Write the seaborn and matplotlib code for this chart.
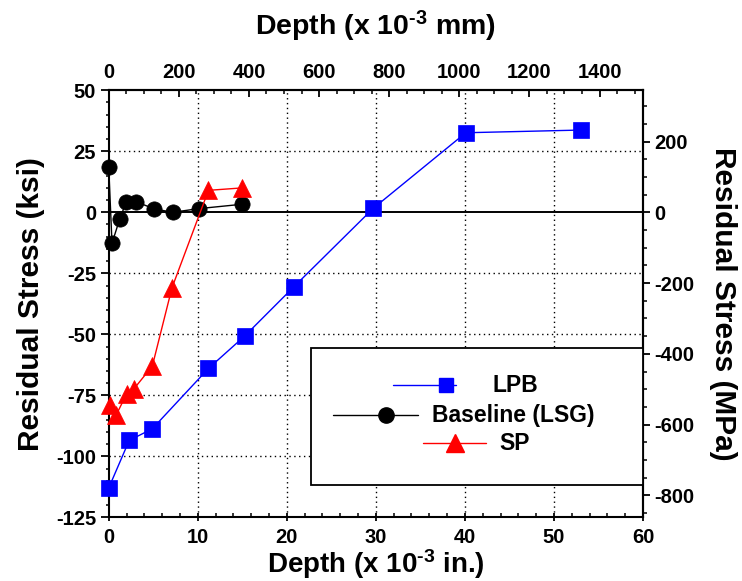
import numpy as np
import pandas as pd
import matplotlib
matplotlib.use("Agg")
import matplotlib.pyplot as plt
from matplotlib.ticker import MultipleLocator, FixedLocator
from matplotlib.patches import Rectangle
from matplotlib.lines import Line2D
import seaborn as sns

# ---- data (depth in 1e-3 in., stress in ksi) ----
lpb_depth = [0.0, 2.3, 4.9, 11.2, 15.3, 20.8, 29.7, 40.1, 53.0]
lpb_stress = [-113.0, -93.5, -88.7, -64.0, -50.6, -30.5, 1.6, 32.6, 33.7]

base_depth = [0.0, 0.37, 1.24, 1.98, 3.1, 5.1, 7.2, 10.1, 15.0]
base_stress = [18.7, -12.7, -2.7, 4.3, 4.3, 1.4, 0.0, 1.5, 3.3]

sp_depth = [0.1, 0.85, 2.0, 2.8, 4.9, 7.1, 11.2, 15.0]
sp_stress = [-79.0, -83.0, -74.5, -72.5, -63.0, -31.0, 9.0, 10.0]

series_names = ["LPB", "Baseline (LSG)", "SP"]
series_colors = ["#0000FF", "#000000", "#FF0000"]
series_markers = ["s", "o", "^"]

top_ticks_mm = [0, 200, 400, 600, 800, 1000, 1200, 1400]
right_ticks_mpa = [-800, -600, -400, -200, 0, 200]

KSI_TO_MPA = 6.89476
IN_TO_MM = 25.4

sns.set_style("ticks")
plt.rcParams["font.family"] = ["Liberation Sans", "DejaVu Sans"]
plt.rcParams["font.weight"] = "bold"
plt.rcParams["axes.labelweight"] = "bold"
plt.rcParams["axes.unicode_minus"] = False
plt.rcParams["text.color"] = "black"
plt.rcParams["axes.labelcolor"] = "black"
plt.rcParams["xtick.color"] = "black"
plt.rcParams["ytick.color"] = "black"
plt.rcParams["axes.edgecolor"] = "black"
plt.rcParams["mathtext.fontset"] = "custom"
plt.rcParams["mathtext.rm"] = "Liberation Sans:bold"
plt.rcParams["mathtext.it"] = "Liberation Sans:bold"
plt.rcParams["mathtext.bf"] = "Liberation Sans:bold"

fig = plt.figure(figsize=(7.42, 5.81), dpi=100)
ax = fig.add_axes([0.1465, 0.1096, 0.7201, 0.735])

data = [
    (lpb_depth, lpb_stress, 11.5),
    (base_depth, base_stress, 11.0),
    (sp_depth, sp_stress, 13.0),
]
for (xs, ys, ms), name, col, mk in zip(data, series_names, series_colors, series_markers):
    df = pd.DataFrame({"depth": xs, "stress": ys})
    sns.lineplot(data=df, x="depth", y="stress", ax=ax, color=col, marker=mk,
                 markersize=ms, markeredgecolor=col, markeredgewidth=0.5,
                 linewidth=1.0, sort=False, estimator=None, legend=False,
                 clip_on=False, zorder=4)

ax.set_xlim(0, 60)
ax.set_ylim(-125, 50)
ax.axhline(0, color="black", lw=1.4, zorder=2)

ax.xaxis.set_major_locator(MultipleLocator(10))
ax.xaxis.set_minor_locator(MultipleLocator(2))
ax.yaxis.set_major_locator(MultipleLocator(25))
ax.yaxis.set_minor_locator(MultipleLocator(5))

for x in [10, 20, 30, 40, 50]:
    ax.axvline(x, color="black", lw=1.0, ls=(0, (1, 2.5)), zorder=1)
for y in [25, -25, -50, -75, -100]:
    ax.axhline(y, color="black", lw=1.0, ls=(0, (1, 2.5)), zorder=1)

for sp in ax.spines.values():
    sp.set_linewidth(1.5)
    sp.set_color("black")
    sp.set_visible(True)

ax.tick_params(axis="x", which="major", direction="inout", length=6, width=1.3,
               labelsize=14.5, pad=5, top=False, colors="black")
ax.tick_params(axis="x", which="minor", direction="in", length=3, width=1.1, top=False)
ax.tick_params(axis="y", which="major", direction="out", length=6, width=1.3,
               labelsize=14.5, pad=3, right=False, colors="black")
ax.tick_params(axis="y", which="minor", direction="out", length=2.5, width=1.1, right=False)

ax.set_xlabel("Depth (x 10$^{\\text{-3}}$ in.)", fontsize=20, fontweight="bold",
              labelpad=0, color="black")
ax.set_ylabel("Residual Stress (ksi)", fontsize=21.5, fontweight="bold", labelpad=8,
              color="black")

# top axis: depth in mm
top = ax.secondary_xaxis("top", functions=(lambda x: x * IN_TO_MM, lambda x: x / IN_TO_MM))
top.xaxis.set_major_locator(FixedLocator(top_ticks_mm))
top.xaxis.set_minor_locator(FixedLocator(list(range(0, 1501, 50))))
top.tick_params(which="major", direction="in", length=5, width=1.3, labelsize=14.5,
                pad=6, colors="black")
top.tick_params(which="minor", direction="in", length=3, width=1.1)
top.set_xlabel("Depth (x 10$^{\\text{-3}}$ mm)", fontsize=20.5, fontweight="bold",
               labelpad=20, color="black")
top.spines["top"].set_linewidth(1.5)

# right axis: stress in MPa
right = ax.secondary_yaxis("right", functions=(lambda y: y * KSI_TO_MPA, lambda y: y / KSI_TO_MPA))
right.yaxis.set_major_locator(FixedLocator(right_ticks_mpa))
right.yaxis.set_minor_locator(FixedLocator(list(range(-850, 301, 50))))
right.tick_params(which="major", direction="out", length=5, width=1.3, labelsize=14.5,
                  pad=3, colors="black")
right.tick_params(which="minor", direction="out", length=3, width=1.1)
right.set_ylabel("Residual Stress (MPa)", fontsize=21.5, fontweight="bold",
                 rotation=270, labelpad=31, color="black")
right.spines["right"].set_linewidth(1.5)

for lab in ax.get_xticklabels() + ax.get_yticklabels() + top.get_xticklabels() + right.get_yticklabels():
    lab.set_fontweight("bold")

# legend box (centered entries)
tr = ax.transAxes
ax.add_patch(Rectangle((0.3786, 0.0756), 1.0 - 0.3786, 0.3965 - 0.0756, transform=tr,
                       facecolor="white", edgecolor="black", lw=1.3, zorder=5))
leg_entries = [
    # line x0, x1, marker x, y, text x, marker size
    (0.5313, 0.6492, 0.631, 0.3098, 0.7174, 9.5),
    (0.4190, 0.5789, 0.5188, 0.2396, 0.6045, 11.0),
    (0.5888, 0.7056, 0.6481, 0.1740, 0.7310, 13.0),
]
for (x0, x1, xm, yy, xt, ms), name, col, mk in zip(leg_entries, series_names, series_colors, series_markers):
    ax.add_line(Line2D([x0, x1], [yy, yy], transform=tr, color=col, lw=1.0, zorder=6))
    ax.add_line(Line2D([xm], [yy], transform=tr, color=col, marker=mk, markersize=ms,
                       markeredgecolor=col, lw=0, zorder=6))
    ax.text(xt, yy, name, transform=tr, fontsize=16.5, fontweight="bold",
            va="center", ha="left", zorder=6, color="black")

fig.savefig("out.png", dpi=100)
